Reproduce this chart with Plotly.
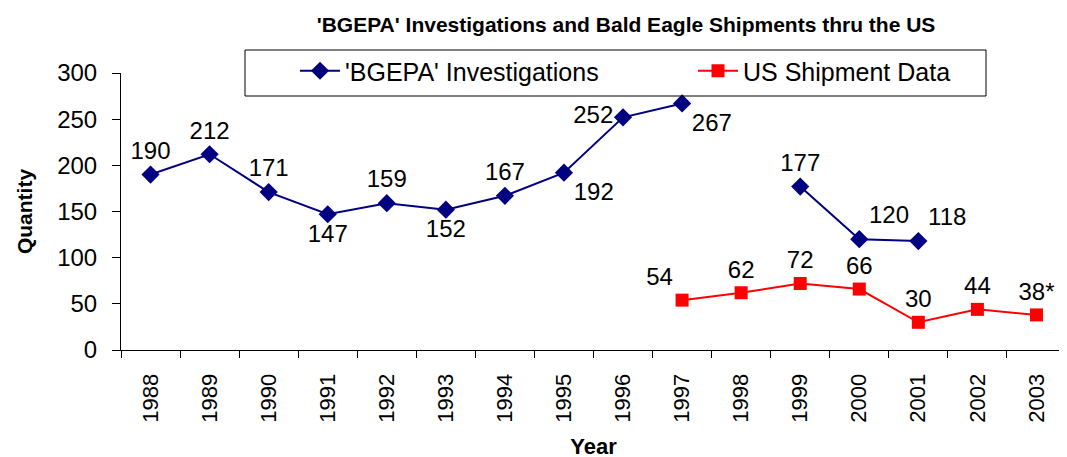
import plotly.graph_objects as go

years = ["1988", "1989", "1990", "1991", "1992", "1993", "1994", "1995",
         "1996", "1997", "1998", "1999", "2000", "2001", "2002", "2003"]
bgepa = [190, 212, 171, 147, 159, 152, 167, 192, 252, 267, None, 177, 120, 118, None, None]
bgepa_labels = ["190", "212", "171", "147", "159", "152", "167", "192", "252", "267", "", "177", "120", "118", "", ""]
ship_years = ["1997", "1998", "1999", "2000", "2001", "2002", "2003"]
shipments = [54, 62, 72, 66, 30, 44, 38]
ship_labels = ["54", "62", "72", "66", "30", "44", "38*"]

bgepa_pos = ["top center", "top center", "top center", "bottom center", "top center",
             "bottom center", "top center", "bottom right", "middle left", "bottom right",
             "top center", "top center", "top right", "top right", "top center", "top center"]
ship_pos = ["top left", "top center", "top center", "top center", "top center", "top center", "top center"]

FONT = "Liberation Sans, Arial, sans-serif"
# page body has an 8px margin: figure coords = screen coords - 8
L, T, PW, PH = 113, 65, 945, 277

fig = go.Figure()
fig.add_trace(go.Scatter(
    x=years, y=bgepa, name="'BGEPA' Investigations", mode="lines+markers+text",
    text=bgepa_labels, textposition=bgepa_pos,
    textfont=dict(family=FONT, size=24, color="black"),
    line=dict(color="#000080", width=2),
    marker=dict(symbol="diamond", size=14, color="#000080"),
    legend="legend",
))
fig.add_trace(go.Scatter(
    x=ship_years, y=shipments, name="US Shipment Data", mode="lines+markers+text",
    text=ship_labels, textposition=ship_pos,
    textfont=dict(family=FONT, size=24, color="black"),
    line=dict(color="#FF0000", width=2),
    marker=dict(symbol="square", size=13, color="#FF0000"),
    legend="legend2",
))

leg_common = dict(orientation="h", xanchor="left", yanchor="middle",
                  y=1 + (T - 63) / PH, bgcolor="rgba(0,0,0,0)", borderwidth=0,
                  font=dict(family=FONT, size=25, color="black"), itemwidth=40)

fig.update_layout(
    width=1067, height=457,
    margin=dict(l=L, r=1067 - L - PW, t=T, b=457 - T - PH),
    paper_bgcolor="white", plot_bgcolor="white",
    font=dict(family=FONT, size=22, color="black"),
    showlegend=True,
    title=dict(text="<b>'BGEPA' Investigations and Bald Eagle Shipments thru the US</b>",
               font=dict(family=FONT, size=21, color="black"),
               x=(618 - L) / PW, xref="paper", xanchor="center",
               y=1 - 17 / 457, yref="container", yanchor="middle"),
    legend=dict(x=(287 - L) / PW, **leg_common),
    legend2=dict(x=(685 - L) / PW, **leg_common),
    shapes=[dict(type="rect", xref="paper", yref="paper",
                 x0=(237 - L) / PW, x1=(978 - L) / PW,
                 y0=1 + (T - 88) / PH, y1=1 + (T - 42) / PH,
                 line=dict(color="black", width=1), fillcolor="rgba(0,0,0,0)")],
)

fig.update_xaxes(
    type="category", categoryorder="array", categoryarray=years,
    range=[-0.5, 15.5], tickson="boundaries", ticks="outside", ticklen=7,
    tickcolor="black", showline=True, linecolor="black", linewidth=1,
    showgrid=False, zeroline=False, tickangle=-90, automargin=False,
    tickfont=dict(family=FONT, size=22), ticklabelstandoff=14,
    title=dict(text="<b>Year</b>", font=dict(family=FONT, size=22), standoff=16),
)
fig.update_yaxes(
    range=[0, 300], dtick=50, tick0=0, ticks="outside", ticklen=8,
    tickcolor="black", showline=True, linecolor="black", linewidth=1,
    showgrid=False, zeroline=False, automargin=False,
    tickfont=dict(family=FONT, size=24), ticklabelstandoff=10,
    title=dict(text="<b>Quantity</b>", font=dict(family=FONT, size=21), standoff=18),
)

fig.write_html("out.html")
